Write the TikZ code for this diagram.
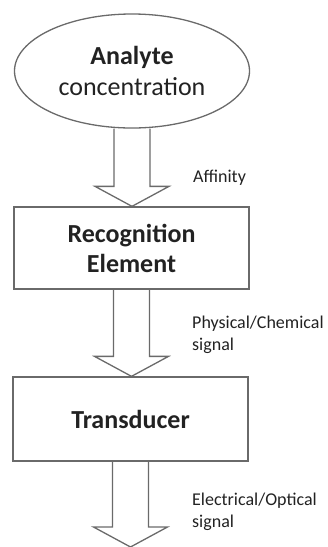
\documentclass[tikz,border=0pt]{standalone}
\usepackage{fontspec}
\setmainfont{Carlito}
\usetikzlibrary{shapes.geometric,calc}
\definecolor{linegray}{HTML}{6A6A6A}
\definecolor{txt}{HTML}{222222}
\tikzset{
  box/.style={draw=linegray, line width=1.3pt, minimum width=235pt, text=txt, align=center,
              font=\fontsize{26}{30}\selectfont\bfseries, inner sep=0pt},
  oval/.style={ellipse, draw=linegray, line width=1.3pt, minimum width=235pt, minimum height=114pt,
               text=txt, align=center, inner sep=0pt, font=\fontsize{26}{31}\selectfont},
  lbl/.style={anchor=west, text=txt, align=left, font=\fontsize{18}{22}\selectfont, inner sep=0pt},
  blockarr/.style={draw=linegray, line width=1.3pt, line join=miter}
}
\newcommand\myblockarrow[2]{%
  \draw[blockarr] let \p1=(#1), \p2=(#2) in
    (\x1-18pt,\y1) -- (\x1-18pt,\y2+20pt) -- (\x1-37pt,\y2+20pt) -- (\x1,\y2)
    -- (\x1+37pt,\y2+20pt) -- (\x1+18pt,\y2+20pt) -- (\x1+18pt,\y1);}
\begin{document}
\begin{tikzpicture}[x=1pt,y=1pt]
\useasboundingbox (0,0) rectangle (328,-547);
\node[oval] (ana) at (132,-71) {\textbf{Analyte}\\concentration};
\node[box, minimum height=82pt] (rec) at (131.5,-248) {Recognition\\Element};
\node[box, minimum height=84pt] (tra) at (130.5,-419) {Transducer};
\coordinate (out) at (132,-547);
\myblockarrow{ana.south}{rec.north}
\myblockarrow{rec.south}{tra.north}
\myblockarrow{tra.south}{out}
\node[lbl] (l1) at (193,-178) {Affinity};
\node[lbl] (l2) at (192,-335) {Physical/Chemical\\signal};
\node[lbl] (l3) at (192,-512) {Electrical/Optical\\signal};
\end{tikzpicture}
\end{document}
